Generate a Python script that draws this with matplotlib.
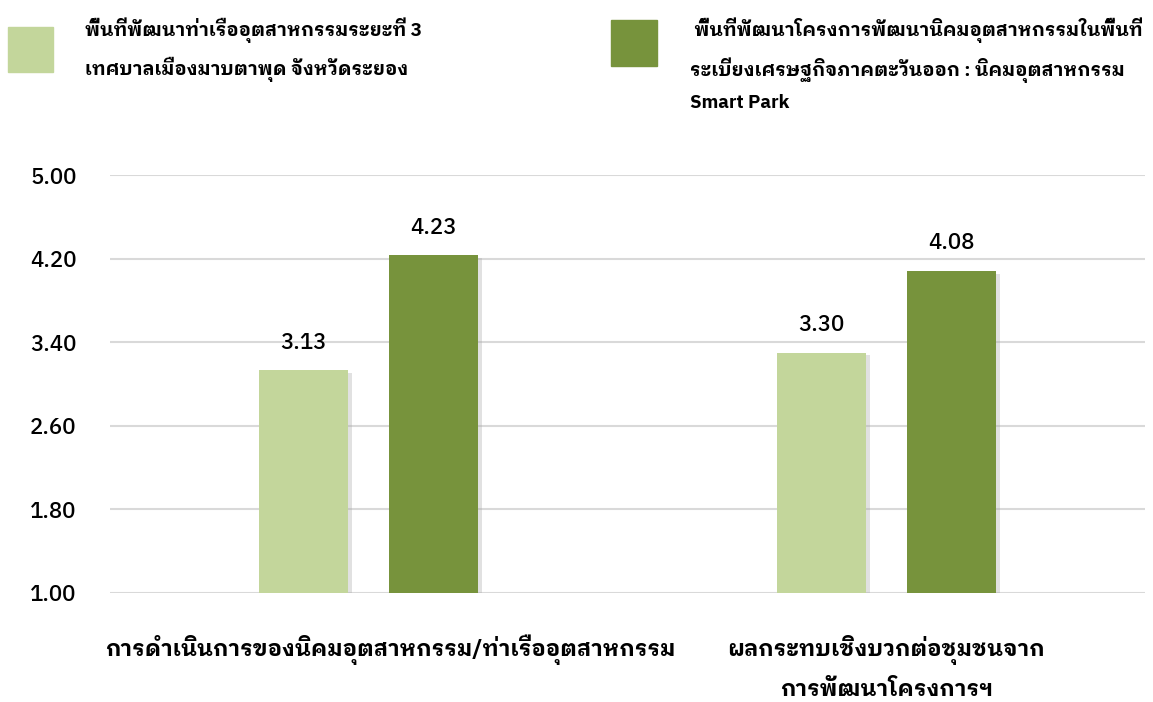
import numpy as np
import matplotlib
matplotlib.use("Agg")
import matplotlib.pyplot as plt
import matplotlib.patches as mpatches
import matplotlib.patheffects as pe
from matplotlib.transforms import ScaledTranslation

# Fonte com glifos tailandeses
plt.rcParams['font.family'] = ['IBM Plex Sans Thai Looped', 'Noto Sans Thai Looped', 'DejaVu Sans']

# Dados
categorias = ['การดำเนินการของนิคมอุตสาหกรรม/ท่าเรืออุตสาหกรรม',
              'ผลกระทบเชิงบวกต่อชุมชนจาก\nการพัฒนาโครงการฯ']
serie1_nome = 'พื้นที่พัฒนาท่าเรืออุตสาหกรรมระยะที่ 3\nเทศบาลเมืองมาบตาพุด จังหวัดระยอง'
serie2_nome = ' พื้นที่พัฒนาโครงการพัฒนานิคมอุตสาหกรรมในพื้นที่\nระเบียงเศรษฐกิจภาคตะวันออก : นิคมอุตสาหกรรม\nSmart Park'
serie1 = [3.13, 3.30]
serie2 = [4.23, 4.08]
ticks_y = [1.00, 1.80, 2.60, 3.40, 4.20, 5.00]

cor1 = '#c3d69b'
cor2 = '#77933c'

fig = plt.figure(figsize=(11.53, 7.02), dpi=100)
ax = fig.add_axes([0.0954, 0.1553, 0.8976, 0.5954])

x = np.arange(len(categorias))
largura = 0.172
desloc = 0.1256
sombra = [pe.SimplePatchShadow(offset=(3, -2), shadow_rgbFace='#aaaaaa', alpha=0.35), pe.Normal()]

b1 = ax.bar(x - desloc, np.array(serie1) - 1, bottom=1, width=largura, color=cor1, zorder=3)
b2 = ax.bar(x + desloc, np.array(serie2) - 1, bottom=1, width=largura, color=cor2, zorder=3)
for b in list(b1) + list(b2):
    b.set_path_effects(sombra)

# Rótulos de valor
for xi, v in zip(x - desloc, serie1):
    ax.text(xi, v + 0.16, f'{v:.2f}', ha='center', va='bottom', fontsize=16, fontweight='medium')
for xi, v in zip(x + desloc, serie2):
    ax.text(xi, v + 0.16, f'{v:.2f}', ha='center', va='bottom', fontsize=16, fontweight='medium')

ax.set_xlim(-0.5, 1.5)
ax.set_ylim(1, 5)
ax.set_yticks(ticks_y)
ax.set_yticklabels([f'{t:.2f}' for t in ticks_y], fontsize=16, fontweight='medium')
ax.tick_params(axis='y', length=0, pad=24)
ax.set_xticks(x)
ax.set_xticklabels(categorias, fontsize=16, fontweight='bold', linespacing=1.85)
ax.tick_params(axis='x', length=0, pad=30)
# primeiro rótulo deslocado para a direita como no original
lbl = ax.get_xticklabels()[0]
lbl.set_transform(lbl.get_transform() + ScaledTranslation(0.22, 0, fig.dpi_scale_trans))
ax.grid(axis='y', color='#d9d9d9', linewidth=1.5, zorder=0)
ax.set_axisbelow(True)
for s in ax.spines.values():
    s.set_visible(False)

# Legenda manual
fig.patches.append(mpatches.Rectangle((8 / 1153, 1 - 72 / 702), 45 / 1153, 45 / 702,
                                      transform=fig.transFigure, color=cor1))
fig.patches.append(mpatches.Rectangle((611 / 1153, 1 - 66 / 702), 46 / 1153, 46 / 702,
                                      transform=fig.transFigure, color=cor2))
fig.text(85 / 1153, 1 - 17 / 702, serie1_nome, ha='left', va='top', fontsize=13.5,
         fontweight='bold', linespacing=1.8)
fig.text(690 / 1153, 1 - 17 / 702, serie2_nome, ha='left', va='top', fontsize=13.5,
         fontweight='bold', linespacing=1.8)

fig.savefig('out.png', dpi=100)
